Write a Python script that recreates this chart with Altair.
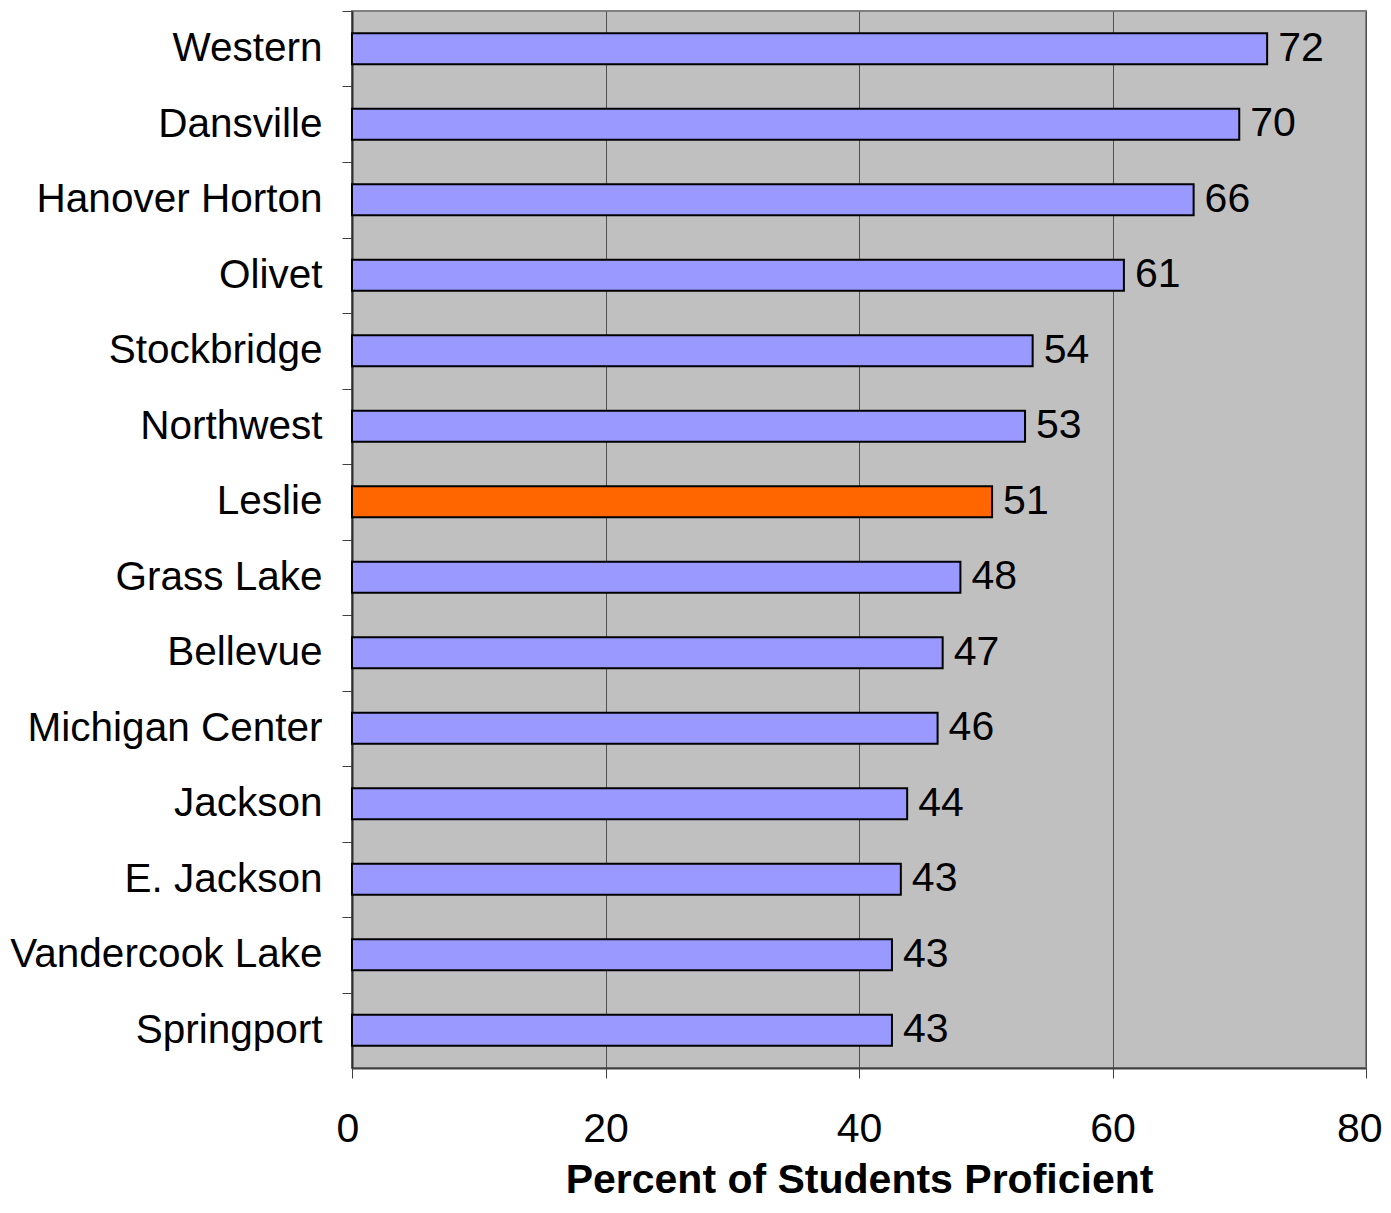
import altair as alt
import pandas as pd

schools = ["Western", "Dansville", "Hanover Horton", "Olivet", "Stockbridge", "Northwest",
           "Leslie", "Grass Lake", "Bellevue", "Michigan Center", "Jackson", "E. Jackson",
           "Vandercook Lake", "Springport"]
values = [72.2, 70.0, 66.4, 60.9, 53.7, 53.1, 50.5, 48.0, 46.6, 46.2, 43.8, 43.3, 42.6, 42.6]
labels = ["72", "70", "66", "61", "54", "53", "51", "48", "47", "46", "44", "43", "43", "43"]
highlight = "Leslie"

df = pd.DataFrame({"school": schools, "value": values, "label": labels})
df["hl"] = ["yes" if s == highlight else "no" for s in schools]

FONT = "Liberation Sans"
H = 1057
STEP = H / len(schools)

y = alt.Y("school:N", sort=schools, title=None,
          scale=alt.Scale(paddingInner=0.59, paddingOuter=0.295),
          axis=alt.Axis(tickOffset=-STEP / 2, labelOffset=STEP / 2, labelFontSize=40.5,
                        labelFont=FONT, labelColor="black", labelPadding=20, tickSize=10,
                        tickColor="#404040", domainColor="#303030", domainWidth=2,
                        grid=False, labelLimit=400))
x = alt.X("value:Q", title="Percent of Students Proficient",
          scale=alt.Scale(domain=[0, 80], nice=False),
          axis=alt.Axis(values=[0, 20, 40, 60, 80], labelFontSize=41, labelFont=FONT,
                        labelColor="black", tickSize=10, tickColor="#404040",
                        domainColor="#404040", domainWidth=2, labelPadding=31,
                        labelFlush=True, labelFlushOffset=16,
                        grid=True, gridColor="#505050", gridWidth=1,
                        titleFontSize=41, titleFont=FONT, titleFontWeight="bold",
                        titleColor="black", titlePadding=11))

bars = alt.Chart(df).mark_bar(stroke="black", strokeWidth=2).encode(
    x=x, y=y,
    color=alt.Color("hl:N", scale=alt.Scale(domain=["no", "yes"], range=["#9999FF", "#FF6600"]),
                    legend=None),
)
text = alt.Chart(df).mark_text(align="left", baseline="middle", dx=11, fontSize=41,
                               font=FONT, color="black").encode(
    x=alt.X("value:Q"), y=alt.Y("school:N", sort=schools), text="label:N")

chart = (bars + text).properties(
    width=1014, height=H,
    background="white",
    autosize=alt.AutoSizeParams(type="none"),
    padding={"left": 344, "top": 3, "right": 17, "bottom": 137},
).configure_view(fill="#C0C0C0", stroke="#808080", strokeWidth=2)

chart.save("out.html", embed_options={"renderer": "svg", "actions": False})
